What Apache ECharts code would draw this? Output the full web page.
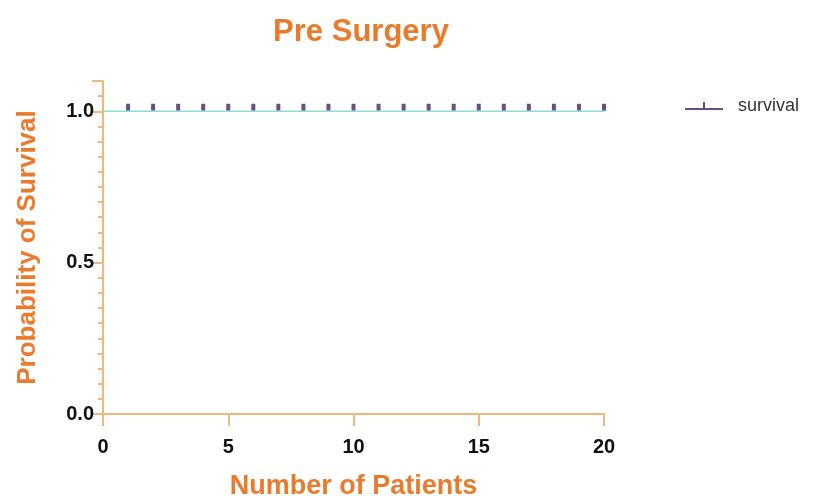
<!DOCTYPE html>
<html>
<head>
<meta charset="utf-8">
<script src="https://cdn.jsdelivr.net/npm/echarts@6/dist/echarts.min.js"></script>
<style>html,body{margin:0;padding:0;background:#fff}#c{width:830px;height:501px}</style>
</head>
<body>
<div id="c"></div>
<script>
const titleText = 'Pre Surgery';
const xTitle = 'Number of Patients';
const yTitle = 'Probability of Survival';
const seriesName = 'survival';
// survival curve (step) : x values and probability
const curveX = [0, 20];
const curveY = [1.0, 1.0];
// censored marks
const censorX = [1,2,3,4,5,6,7,8,9,10,11,12,13,14,15,16,17,18,19,20];
const censorY = [1,1,1,1,1,1,1,1,1,1,1,1,1,1,1,1,1,1,1,1];

const orange = '#ea7a2c';
const axisCol = '#f3b77c';
const FONT = 'Liberation Sans';

const chart = echarts.init(document.getElementById('c'));
chart.setOption({
  animation: false,
  title: {
    text: titleText, left: 356, top: 12, textAlign: 'center',
    textStyle: {color: orange, fontSize: 31, fontWeight: 'bold', fontFamily: FONT}
  },
  legend: {
    data: [{name: seriesName, icon: 'path://M0,6h38v2h-38z M18,0h2v6h-2z'}],
    left: 680, top: 92, itemWidth: 38, itemHeight: 8, itemGap: 10,
    textStyle: {fontSize: 18, color: '#333', fontFamily: FONT, padding: [0, 0, 0, 10]}
  },
  grid: {left: 103, right: 226, top: 81, bottom: 87, containLabel: false, outerBoundsMode: 'none'},
  xAxis: {
    type: 'value', min: 0, max: 20, interval: 5,
    name: xTitle, nameLocation: 'middle', nameGap: 59,
    nameTextStyle: {color: orange, fontSize: 27, fontWeight: 'bold', fontFamily: FONT},
    axisLine: {lineStyle: {color: axisCol, width: 2}},
    axisTick: {length: 12, lineStyle: {color: axisCol, width: 2}},
    axisLabel: {color: '#111', fontSize: 20, fontWeight: 'bold', fontFamily: FONT, margin: 23},
    splitLine: {show: false}
  },
  yAxis: [{
    type: 'value', min: 0, max: 1.1, interval: 0.05,
    name: yTitle, nameLocation: 'middle', nameGap: 62,
    nameTextStyle: {color: orange, fontSize: 26, fontWeight: 'bold', fontFamily: FONT},
    axisLine: {lineStyle: {color: axisCol, width: 2}},
    axisTick: {length: 5, lineStyle: {color: axisCol, width: 2}},
    axisLabel: {
      color: '#111', fontSize: 20, fontWeight: 'bold', fontFamily: FONT, margin: 9,
      formatter: v => (Math.abs(v * 2 - Math.round(v * 2)) < 1e-6) ? v.toFixed(1) : ''
    },
    splitLine: {show: false}
  }, {
    type: 'value', min: 0, max: 1.1, interval: 0.5, position: 'left',
    axisLine: {show: false},
    axisTick: {length: 11, lineStyle: {color: axisCol, width: 2}},
    axisLabel: {show: false},
    splitLine: {show: false}
  }],
  series: [{
    name: 'curve', type: 'line', step: 'end',
    data: curveX.map((x, i) => [x, curveY[i]]),
    showSymbol: false, symbol: 'none',
    lineStyle: {color: '#8fdcd0', width: 1.5},
    itemStyle: {color: '#8fdcd0'}
  }, {
    name: seriesName, type: 'scatter',
    data: censorX.map((x, i) => [x, censorY[i]]),
    symbol: 'rect', symbolSize: [4, 7], symbolOffset: [0, -4],
    itemStyle: {color: '#432265'}
  }]
});
</script>
</body>
</html>
